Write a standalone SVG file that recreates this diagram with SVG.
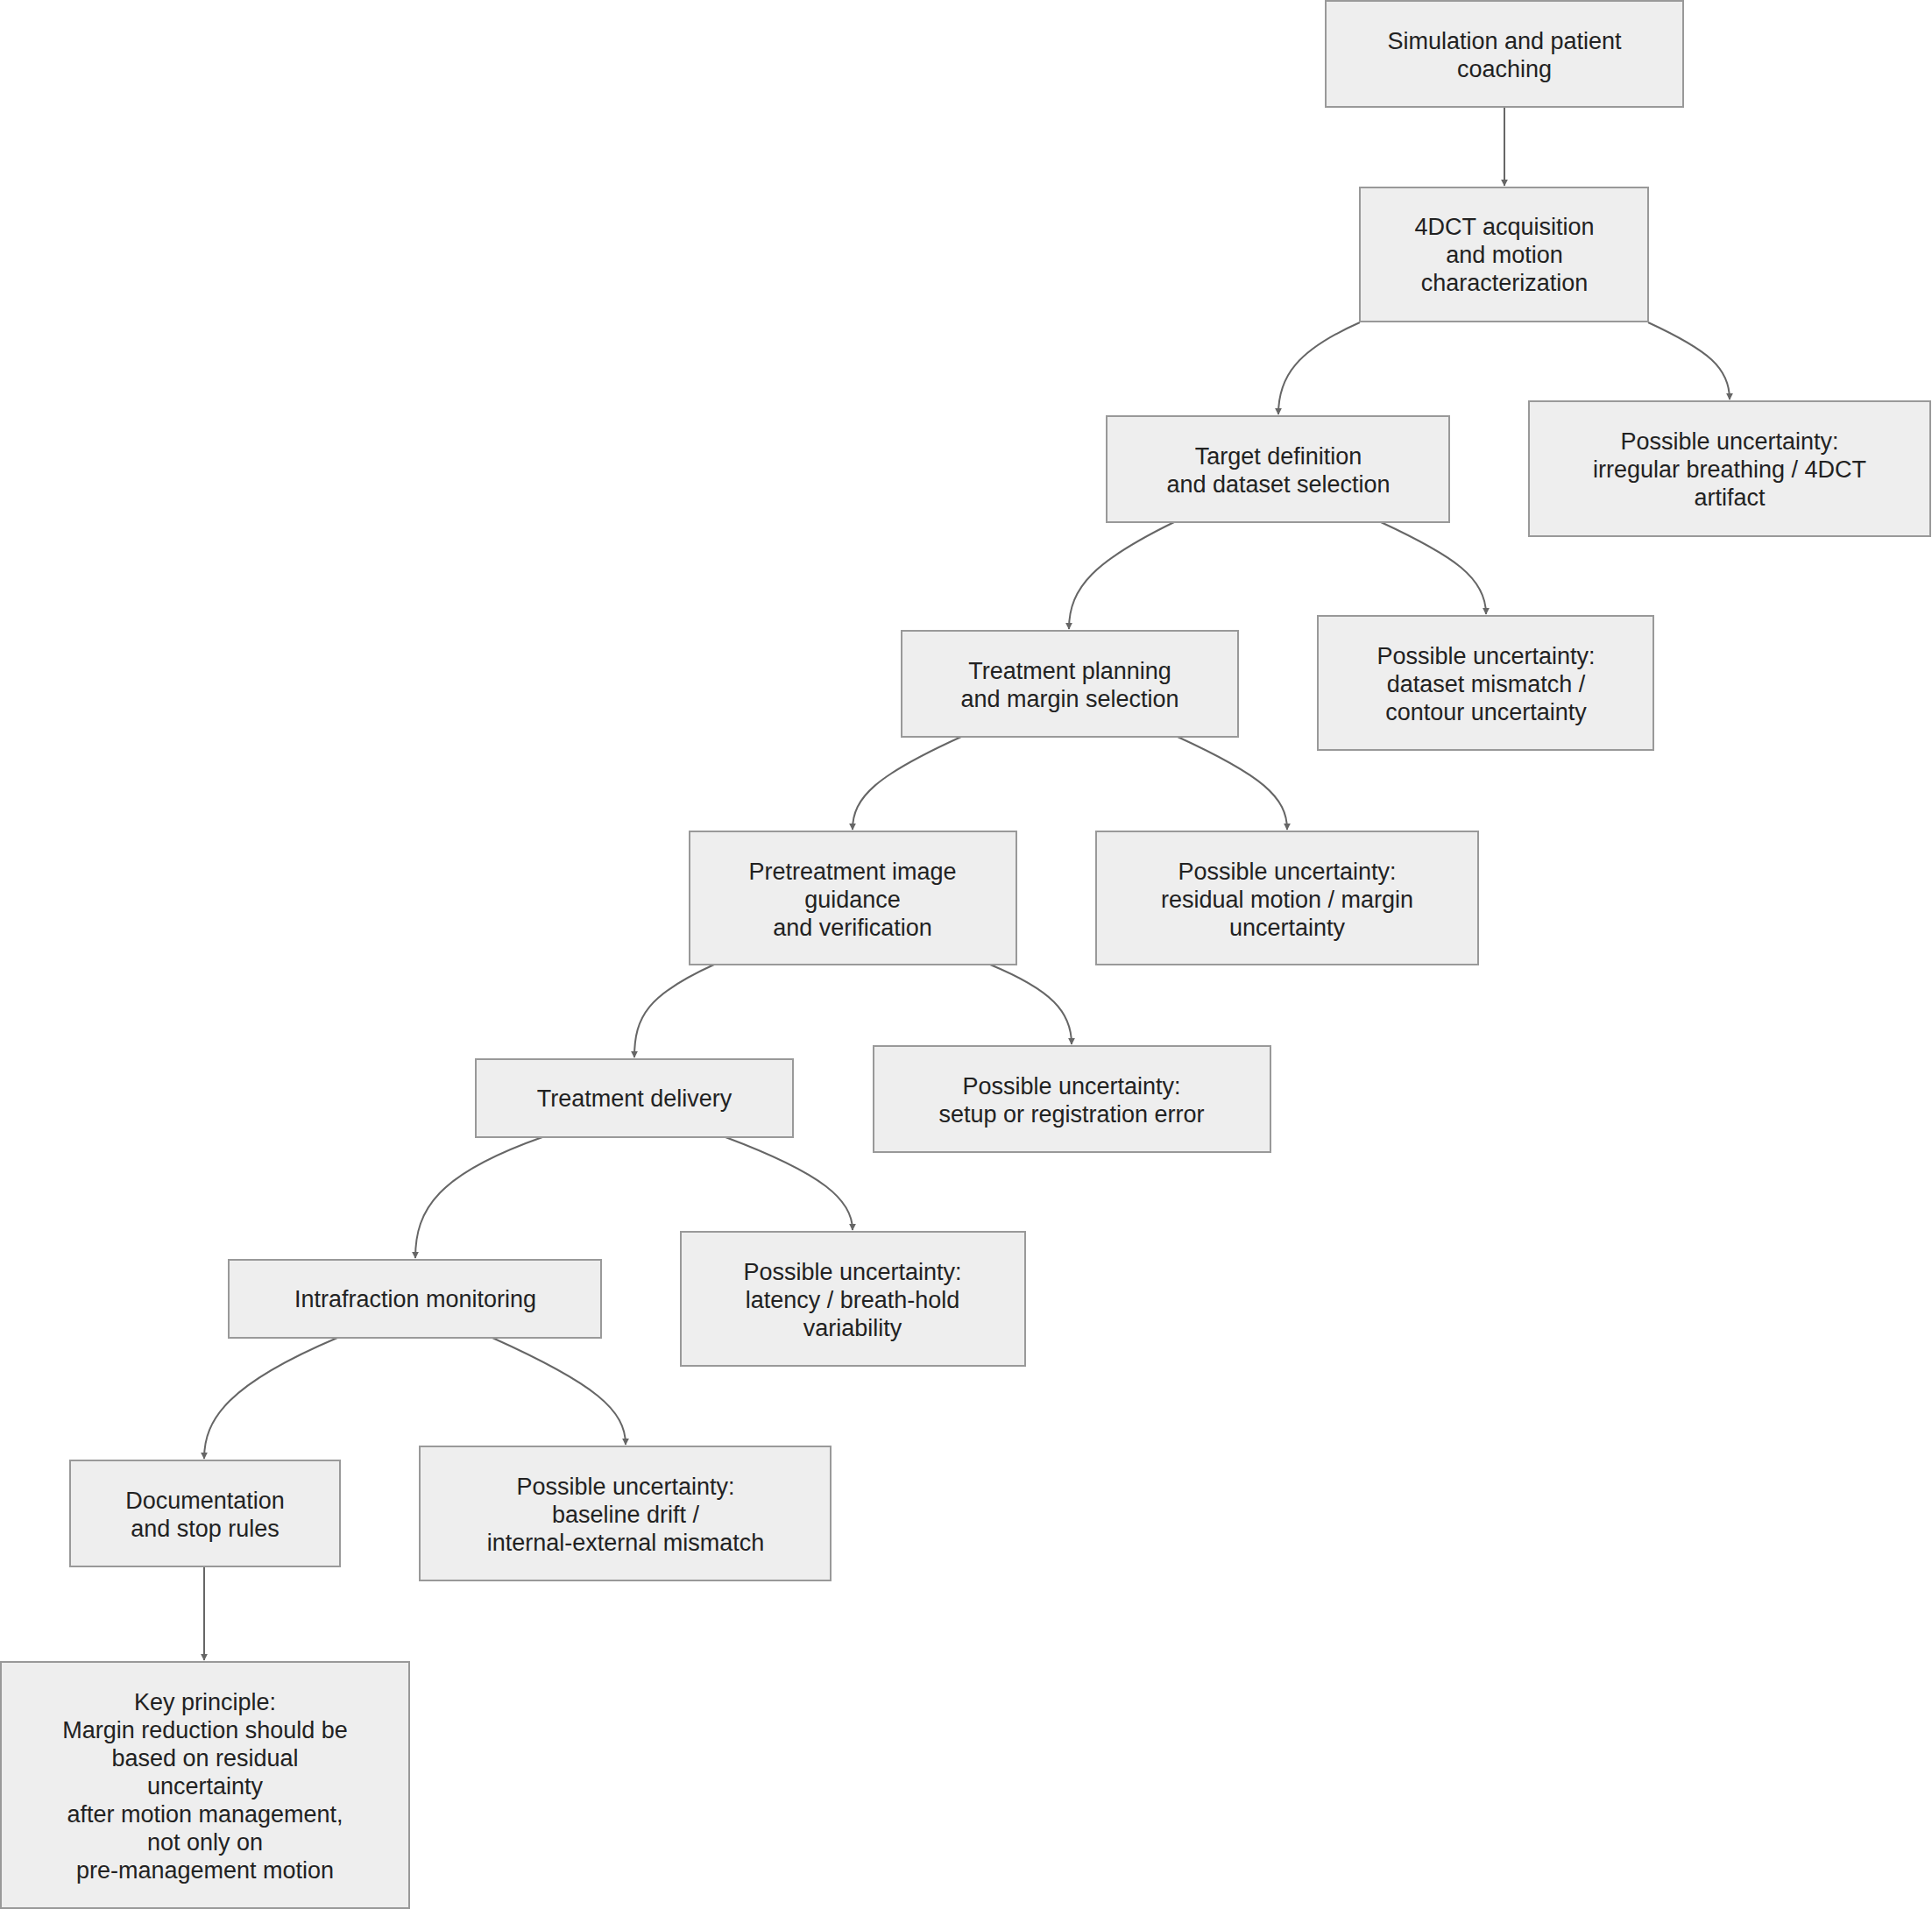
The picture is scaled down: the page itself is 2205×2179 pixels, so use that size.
<svg xmlns="http://www.w3.org/2000/svg" width="2205" height="2179" viewBox="0 0 2205 2179">
<style>
.n rect{fill:#eeeeee;stroke:#999999;stroke-width:2}
.n text{font-family:"Liberation Sans",Arial,sans-serif;font-size:27px;fill:#222;text-anchor:middle}
.e path{fill:none;stroke:#666;stroke-width:2;marker-end:url(#a)}
</style>
<defs><marker id="a" viewBox="0 0 10 10" refX="9" refY="5" markerWidth="8" markerHeight="8" orient="auto" markerUnits="userSpaceOnUse"><path d="M0,0L10,5L0,10z" fill="#666"/></marker></defs>
<rect width="2205" height="2179" fill="#fff"/>
<g class="e">
<path d="M1717,122V212"/>
<path d="M1552,368C1480,400 1459,430 1459,473"/>
<path d="M1881,368C1950,400 1974,420 1974,456"/>
<path d="M1340,596C1250,640 1220,670 1220,718"/>
<path d="M1576,596C1660,635 1696,660 1696,701"/>
<path d="M1097,841C1000,885 973,910 973,947"/>
<path d="M1344,841C1440,885 1469,910 1469,947"/>
<path d="M815,1101C740,1135 724,1160 724,1207"/>
<path d="M1130,1101C1200,1130 1223,1155 1223,1192"/>
<path d="M619,1298C500,1340 474,1380 474,1436"/>
<path d="M828,1298C940,1340 973,1370 973,1404"/>
<path d="M385,1527C260,1580 233,1620 233,1665"/>
<path d="M562,1527C680,1580 714,1610 714,1649"/>
<path d="M233,1788V1895"/>
</g>
<g id="n1" class="n"><rect x="1513" y="1" width="408" height="121"/><text x="1717" y="56">Simulation and patient</text><text x="1717" y="88">coaching</text></g>
<g id="n2" class="n"><rect x="1552" y="214" width="329" height="153"/><text x="1717" y="268">4DCT acquisition</text><text x="1717" y="300">and motion</text><text x="1717" y="332">characterization</text></g>
<g id="n3" class="n"><rect x="1263" y="475" width="391" height="121"/><text x="1459" y="530">Target definition</text><text x="1459" y="562">and dataset selection</text></g>
<g id="n4" class="n"><rect x="1745" y="458" width="458" height="154"/><text x="1974" y="513">Possible uncertainty:</text><text x="1974" y="545">irregular breathing / 4DCT</text><text x="1974" y="577">artifact</text></g>
<g id="n5" class="n"><rect x="1029" y="720" width="384" height="121"/><text x="1221" y="775">Treatment planning</text><text x="1221" y="807">and margin selection</text></g>
<g id="n6" class="n"><rect x="1504" y="703" width="383" height="153"/><text x="1696" y="758">Possible uncertainty:</text><text x="1696" y="790">dataset mismatch /</text><text x="1696" y="822">contour uncertainty</text></g>
<g id="n7" class="n"><rect x="787" y="949" width="373" height="152"/><text x="973" y="1004">Pretreatment image</text><text x="973" y="1036">guidance</text><text x="973" y="1068">and verification</text></g>
<g id="n8" class="n"><rect x="1251" y="949" width="436" height="152"/><text x="1469" y="1004">Possible uncertainty:</text><text x="1469" y="1036">residual motion / margin</text><text x="1469" y="1068">uncertainty</text></g>
<g id="n9" class="n"><rect x="543" y="1209" width="362" height="89"/><text x="724" y="1263">Treatment delivery</text></g>
<g id="n10" class="n"><rect x="997" y="1194" width="453" height="121"/><text x="1223" y="1249">Possible uncertainty:</text><text x="1223" y="1281">setup or registration error</text></g>
<g id="n11" class="n"><rect x="261" y="1438" width="425" height="89"/><text x="474" y="1492">Intrafraction monitoring</text></g>
<g id="n12" class="n"><rect x="777" y="1406" width="393" height="153"/><text x="973" y="1461">Possible uncertainty:</text><text x="973" y="1493">latency / breath-hold</text><text x="973" y="1525">variability</text></g>
<g id="n13" class="n"><rect x="80" y="1667" width="308" height="121"/><text x="234" y="1722">Documentation</text><text x="234" y="1754">and stop rules</text></g>
<g id="n14" class="n"><rect x="479" y="1651" width="469" height="153"/><text x="714" y="1706">Possible uncertainty:</text><text x="714" y="1738">baseline drift /</text><text x="714" y="1770">internal-external mismatch</text></g>
<g id="n15" class="n"><rect x="1" y="1897" width="466" height="281"/><text x="234" y="1952">Key principle:</text><text x="234" y="1984">Margin reduction should be</text><text x="234" y="2016">based on residual</text><text x="234" y="2048">uncertainty</text><text x="234" y="2080">after motion management,</text><text x="234" y="2112">not only on</text><text x="234" y="2144">pre-management motion</text></g>
</svg>
